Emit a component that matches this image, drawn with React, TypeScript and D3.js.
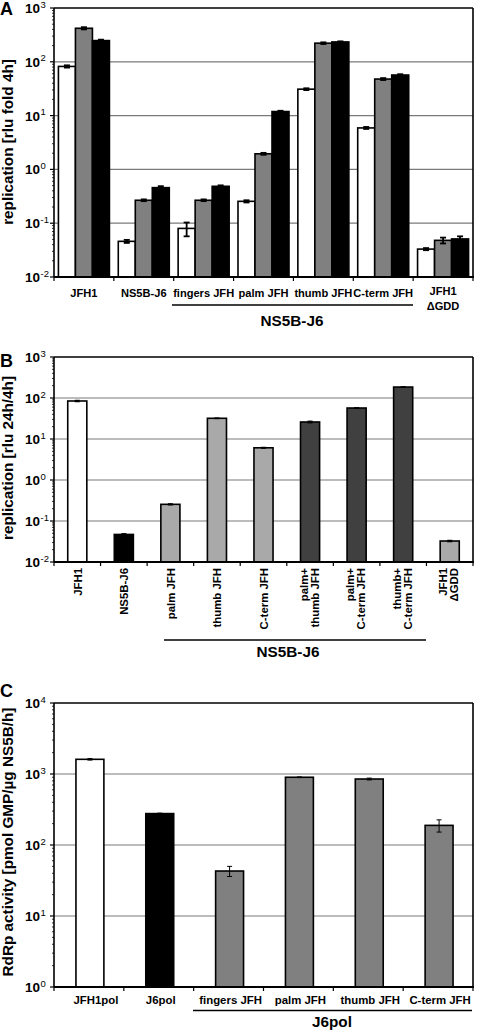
import React from "react";
import * as d3 from "d3";

// ---------- Panel A data ----------
const catsA = ["JFH1", "NS5B-J6", "fingers JFH", "palm JFH", "thumb JFH", "C-term JFH", "JFH1|ΔGDD"];
const a4h = [82, 0.046, 0.08, 0.255, 31, 5.9, 0.033];
const a24h = [420, 0.267, 0.267, 1.95, 222, 47.8, 0.048];
const a48h = [248, 0.458, 0.485, 11.9, 234, 56.8, 0.051];
const a4hErr = [4, 0.003, 0.023, 0.012, 1.2, 0.25, 0.0015];
const a24hErr = [20, 0.01, 0.01, 0.08, 8, 2, 0.006];
const a48hErr = [10, 0.03, 0.02, 0.4, 6, 2, 0.006];
const seriesColorsA = ["#ffffff", "#808080", "#000000"];

// ---------- Panel B data ----------
const catsB = ["JFH1", "NS5B-J6", "palm JFH", "thumb JFH", "C-term JFH", "palm+|thumb JFH", "palm+|C-term JFH", "thumb+|C-term JFH", "JFH1|ΔGDD"];
const bVals = [84.5, 0.047, 0.255, 32, 6.1, 26, 57, 185, 0.0325];
const bErr = [3, 0.002, 0.008, 0.5, 0.15, 1.2, 1, 2, 0.0012];
const bColors = ["#ffffff", "#000000", "#a9a9a9", "#a9a9a9", "#a9a9a9", "#404040", "#404040", "#404040", "#a9a9a9"];

// ---------- Panel C data ----------
const catsC = ["JFH1pol", "J6pol", "fingers JFH", "palm JFH", "thumb JFH", "C-term JFH"];
const cVals = [1610, 277, 43, 900, 850, 189];
const cErr = [40, 4, 7, 10, 25, 37];
const cColors = ["#ffffff", "#000000", "#808080", "#808080", "#808080", "#808080"];

const FONT = "'Liberation Sans', Arial, Helvetica, sans-serif";
const X0 = 54;
const X1 = 473;

type PanelProps = {
  top: number;
  bottom: number;
  domain: [number, number];
  cats: string[];
  children?: React.ReactNode;
  ylabel: string;
  ylabelY: number;
  letter: string;
  letterX: number;
  letterY: number;
};

function Frame({ top, bottom, domain, cats, ylabel, ylabelY, letter, letterX, letterY, children }: PanelProps) {
  const y = d3.scaleLog().domain(domain).range([bottom, top]);
  const x = d3.scaleBand().domain(cats).range([X0, X1]).padding(0);
  const lo = Math.round(Math.log10(domain[0]));
  const hi = Math.round(Math.log10(domain[1]));
  const majors = d3.range(lo, hi + 1);
  const minors: number[] = [];
  for (let e = lo; e < hi; e++) for (let m = 2; m <= 9; m++) minors.push(m * Math.pow(10, e));
  const bounds = cats.map((c) => x(c) as number).concat([X1]);
  return (
    <g>
      {majors.slice(1, -1).map((e) => (
        <line key={"g" + e} x1={X0} x2={X1} y1={y(Math.pow(10, e))} y2={y(Math.pow(10, e))} stroke="#7a7a7a" strokeWidth={1.2} />
      ))}
      {children}
      <line x1={X0} x2={X1} y1={top} y2={top} stroke="#000" strokeWidth={1.6} />
      <line x1={X1} x2={X1} y1={top} y2={bottom} stroke="#000" strokeWidth={1.6} />
      <line x1={X0} x2={X0} y1={top} y2={bottom} stroke="#000" strokeWidth={1.6} />
      <line x1={X0} x2={X1 + 1} y1={bottom} y2={bottom} stroke="#000" strokeWidth={2} />
      {bounds.map((b, i) => (
        <line key={"bt" + i} x1={b} x2={b} y1={bottom} y2={bottom + 4} stroke="#000" strokeWidth={1.2} />
      ))}
      {minors.map((v, i) => (
        <line key={"mt" + i} x1={X0 - 2} x2={X0} y1={y(v)} y2={y(v)} stroke="#000" strokeWidth={0.8} />
      ))}
      {majors.map((e) => (
        <line key={"Mt" + e} x1={X0 - 4} x2={X0} y1={y(Math.pow(10, e))} y2={y(Math.pow(10, e))} stroke="#000" strokeWidth={1.2} />
      ))}
      {majors.map((e) => (
        <text key={"tl" + e} x={40} y={y(Math.pow(10, e)) + 5} fontFamily={FONT} fontWeight="bold" fontSize={13.5} textAnchor="end" fill="#000">
          10
        </text>
      ))}
      {majors.map((e) => (
        <text key={"te" + e} x={40.5} y={y(Math.pow(10, e)) - 0.5} fontFamily={FONT} fontSize={9.5} textAnchor="start" fill="#000">
          {String(e)}
        </text>
      ))}
      <text
        transform={`translate(13,${ylabelY}) rotate(-90)`}
        textAnchor="middle"
        fontFamily={FONT}
        fontWeight="bold"
        fontSize={15.3}
        fill="#000"
      >
        {ylabel}
      </text>
      <text x={letterX} y={letterY} fontFamily={FONT} fontWeight="bold" fontSize={18} fill="#000">
        {letter}
      </text>
    </g>
  );
}

function ErrorBar({ cx, y, v, e, w, sw }: { cx: number; y: d3.ScaleLogarithmic<number, number>; v: number; e: number; w: number; sw: number }) {
  const yt = y(v + e);
  const yb = y(Math.max(v - e, 1e-9));
  return (
    <g stroke="#000" strokeWidth={sw}>
      <line x1={cx} x2={cx} y1={yt} y2={yb} />
      <line x1={cx - w / 2} x2={cx + w / 2} y1={yt} y2={yt} />
      <line x1={cx - w / 2} x2={cx + w / 2} y1={yb} y2={yb} />
    </g>
  );
}

function PanelA() {
  const top = 8, bottom = 277;
  const domain: [number, number] = [1e-2, 1e3];
  const y = d3.scaleLog().domain(domain).range([bottom, top]);
  const x = d3.scaleBand().domain(catsA).range([X0, X1]).padding(0);
  const series = [a4h, a24h, a48h];
  const errs = [a4hErr, a24hErr, a48hErr];
  const inner = d3.scaleBand<number>().domain([0, 1, 2]).range([0, x.bandwidth()]).paddingOuter(0.26).paddingInner(0);
  return (
    <Frame top={top} bottom={bottom} domain={domain} cats={catsA} ylabel="replication [rlu fold 4h]" ylabelY={142} letter="A" letterX={0} letterY={15}>
      {catsA.map((c, i) =>
        series.map((s, k) => {
          const bx = (x(c) as number) + (inner(k) as number);
          return (
            <g key={c + k}>
              <rect x={bx} y={y(s[i])} width={inner.bandwidth()} height={bottom - y(s[i])} fill={seriesColorsA[k]} stroke="#000" strokeWidth={1.6} />
              <ErrorBar cx={bx + inner.bandwidth() / 2} y={y} v={s[i]} e={errs[k][i]} w={6} sw={1.8} />
            </g>
          );
        })
      )}
      {catsA.map((c) => {
        const cx = (x(c) as number) + x.bandwidth() / 2;
        const lines = c.split("|");
        return lines.map((ln, j) => (
          <text key={c + j} x={cx} y={(lines.length > 1 ? 295 : 297) + j * 15} textAnchor="middle" fontFamily={FONT} fontWeight="bold" fontSize={11.1} fill="#000">
            {ln}
          </text>
        ));
      })}
      <line x1={172} x2={413} y1={305} y2={305} stroke="#000" strokeWidth={1.5} />
      <text x={292} y={326} textAnchor="middle" fontFamily={FONT} fontWeight="bold" fontSize={15.3} fill="#000">
        NS5B-J6
      </text>
    </Frame>
  );
}

function PanelB() {
  const top = 357, bottom = 562;
  const domain: [number, number] = [1e-2, 1e3];
  const y = d3.scaleLog().domain(domain).range([bottom, top]);
  const x = d3.scaleBand().domain(catsB).range([X0, X1]).padding(0);
  const bw = x.bandwidth() * 0.41;
  return (
    <Frame top={top} bottom={bottom} domain={domain} cats={catsB} ylabel="replication [rlu 24h/4h]" ylabelY={458} letter="B" letterX={0} letterY={367}>
      {catsB.map((c, i) => {
        const cx = (x(c) as number) + x.bandwidth() / 2;
        return (
          <g key={c}>
            <rect x={cx - bw / 2} y={y(bVals[i])} width={bw} height={bottom - y(bVals[i])} fill={bColors[i]} stroke="#000" strokeWidth={1.6} />
            <ErrorBar cx={cx} y={y} v={bVals[i]} e={bErr[i]} w={5} sw={1.2} />
          </g>
        );
      })}
      {catsB.map((c) => {
        const cx = (x(c) as number) + x.bandwidth() / 2;
        const lines = c.split("|");
        return lines.map((ln, j) => {
          const off = lines.length > 1 ? (j === 0 ? -2.5 : 8.5) : 4.5;
          return (
            <text key={c + j} transform={`translate(${cx + off},568) rotate(-90)`} textAnchor="end" fontFamily={FONT} fontWeight="bold" fontSize={11.4} fill="#000">
              {ln}
            </text>
          );
        });
      })}
      <line x1={164} x2={426} y1={640} y2={640} stroke="#000" strokeWidth={1.5} />
      <text x={288} y={657} textAnchor="middle" fontFamily={FONT} fontWeight="bold" fontSize={15.3} fill="#000">
        NS5B-J6
      </text>
    </Frame>
  );
}

function PanelC() {
  const top = 703, bottom = 987;
  const domain: [number, number] = [1e0, 1e4];
  const y = d3.scaleLog().domain(domain).range([bottom, top]);
  const x = d3.scaleBand().domain(catsC).range([X0, X1]).padding(0);
  const bw = x.bandwidth() * 0.4;
  return (
    <Frame top={top} bottom={bottom} domain={domain} cats={catsC} ylabel="RdRp activity [pmol GMP/µg NS5B/h]" ylabelY={842} letter="C" letterX={0} letterY={697}>
      {catsC.map((c, i) => {
        const cx = (x(c) as number) + x.bandwidth() / 2 + 1;
        return (
          <g key={c}>
            <rect x={cx - bw / 2} y={y(cVals[i])} width={bw} height={bottom - y(cVals[i])} fill={cColors[i]} stroke="#000" strokeWidth={1.6} />
            <ErrorBar cx={cx} y={y} v={cVals[i]} e={cErr[i]} w={5} sw={1} />
          </g>
        );
      })}
      {catsC.map((c, i) => {
        const cx = (x(c) as number) + x.bandwidth() / 2 + (i === 0 ? 7 : 2);
        return (
          <text key={c} x={cx} y={1004} textAnchor="middle" fontFamily={FONT} fontWeight="bold" fontSize={11.4} fill="#000">
            {c}
          </text>
        );
      })}
      <line x1={193} x2={472} y1={1010.5} y2={1010.5} stroke="#000" strokeWidth={1.5} />
      <text x={332} y={1027} textAnchor="middle" fontFamily={FONT} fontWeight="bold" fontSize={15.3} fill="#000">
        J6pol
      </text>
    </Frame>
  );
}

export default function App() {
  return (
    <svg width={484} height={1030} style={{ position: "absolute", left: 0, top: 0, background: "#fff" }}>
      <rect x={0} y={0} width={484} height={1030} fill="#fff" />
      <PanelA />
      <PanelB />
      <PanelC />
    </svg>
  );
}
